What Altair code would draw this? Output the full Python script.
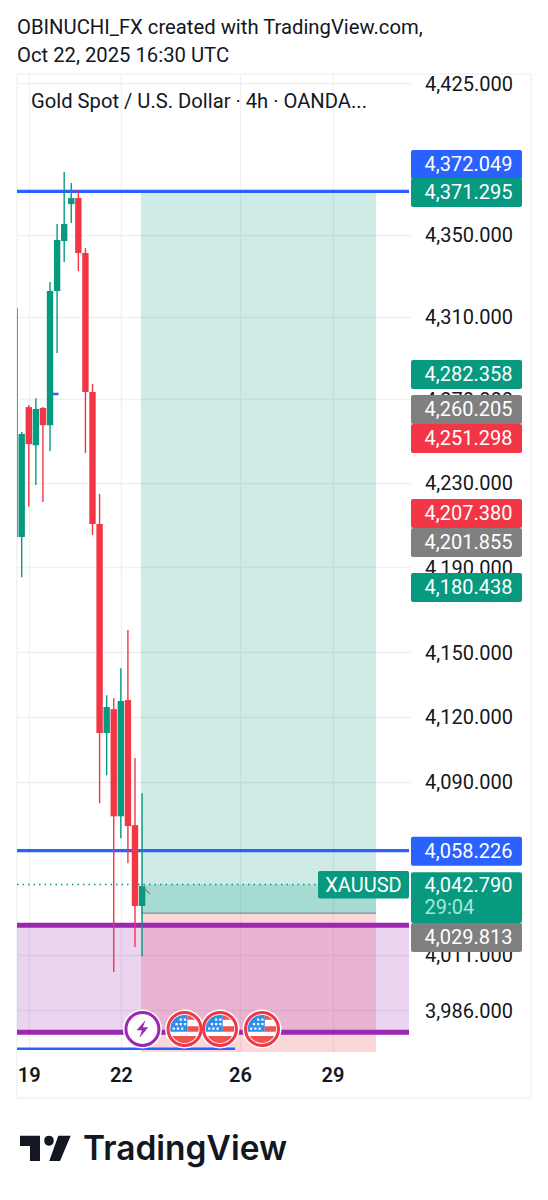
import altair as alt
import pandas as pd

# ---- candles (4h bars) ----
bar_idx = [-1, 0, 1, 2, 3, 4, 5, 6, 7, 8, 9, 10, 11, 12, 13, 14, 15, 16, 17]
opens = [4314.2, 4204.3, 4266.3, 4248.0, 4265.9, 4257.6, 4322.5, 4346.9, 4365.0, 4368.0, 4341.0, 4273.5, 4210.4, 4112.4, 4123.5, 4074.0, 4127.7, 4069.9, 4033.0]
closes = [4204.3, 4253.4, 4248.5, 4265.4, 4257.6, 4322.5, 4347.4, 4355.2, 4368.0, 4341.0, 4273.5, 4210.4, 4112.4, 4124.5, 4074.0, 4127.3, 4069.5, 4033.0, 4042.1]
highs = [4314.2, 4254.3, 4267.3, 4270.6, 4266.3, 4326.9, 4355.2, 4380.8, 4375.4, 4371.9, 4343.4, 4277.4, 4224.7, 4130.0, 4128.6, 4142.6, 4160.4, 4100.8, 4084.6]
lows = [4204.3, 4185.3, 4218.6, 4229.0, 4220.9, 4245.2, 4292.4, 4336.6, 4355.7, 4332.2, 4244.3, 4205.2, 4080.0, 4092.9, 4003.1, 4063.9, 4052.5, 4014.4, 4010.3]

# ---- axes ----
price_ticks = [4425, 4350, 4310, 4270, 4230, 4190, 4150, 4120, 4090, 4011, 3986]
date_ticks = [1, 14, 30.83, 43.9]
date_labels = ["19", "22", "26", "29"]

# ---- drawings ----
blue_levels = [4371.295, 4058.226]
blue_low_level = 3968.6
purple_levels = [4024.3, 3976.0]
last_price = 4042.79
entry_price = 4029.813
target_price = 4371.295
stop_price = 3967.2
event_idx = [23.0, 28.0, 33.94]
event_price = 3977.5
lightning_idx = 17.05

# ---- price tags: text, resting place on the price scale, colour ----
tag_text = ["4,372.049", "4,371.295", "4,282.358", "4,260.205", "4,251.298", "4,207.380", "4,201.855", "4,180.438", "4,058.226", "4,029.813"]
tag_pos = [4384.8, 4371.0, 4282.2, 4265.4, 4251.4, 4215.7, 4201.9, 4180.6, 4058.226, 4018.9]
tag_col = ["#2962FF", "#089981", "#089981", "#808080", "#F23645", "#F23645", "#808080", "#089981", "#2962FF", "#808080"]

GREEN, RED, BLUE, PURPLE, INK = "#089981", "#F23645", "#2962FF", "#9C27B0", "#131722"
FONT = "Roboto"
X_LEFT = -0.664

candles = pd.DataFrame({"i": bar_idx, "o": opens, "c": closes, "h": highs, "l": lows})
candles["col"] = [GREEN if c >= o else RED for o, c in zip(opens, closes)]
tags = pd.DataFrame({"t": tag_text, "p": tag_pos, "col": tag_col})

xs = alt.Scale(domain=[X_LEFT, 54.84], nice=False, zero=False, padding=0)
ys = alt.Scale(type="log", domain=[3967.2, 4429.5], nice=False, zero=False, padding=0)
X = lambda f: alt.X(f, type="quantitative", scale=xs, title=None)
Y = lambda f: alt.Y(f, type="quantitative", scale=ys, title=None)
one = pd.DataFrame({"a": [0]})
col = alt.Color("col:N", scale=None)

label_expr = " : ".join(
    f"datum.value < {v + 1} ? '{t}'" for v, t in zip(date_ticks[:-1], date_labels[:-1])
) + f" : '{date_labels[-1]}'"

# axes and grid
base = alt.Chart(pd.DataFrame({"i": [0.0], "p": [4200.0]})).mark_point(opacity=0).encode(
    x=alt.X("i:Q", scale=xs, title=None, axis=alt.Axis(
        values=date_ticks, labelExpr=label_expr, grid=True, gridColor="#eef0f3", gridWidth=1.3,
        domain=False, ticks=False, labelFont=FONT, labelFontSize=20, labelFontWeight=600,
        labelColor=INK, labelPadding=13, labelBound=False, labelFlush=False, labelOverlap=False)),
    y=alt.Y("p:Q", scale=ys, title=None, axis=alt.Axis(
        orient="right", values=price_ticks, format=",.3f", grid=True, gridColor="#eef0f3", gridWidth=1.3,
        domain=False, ticks=False, labelFont=FONT, labelFontSize=20, labelColor=INK, labelOffset=1,
        labelPadding=14.5, labelAlign="left", labelBaseline="middle", labelOverlap=False, labelBound=False, labelFlush=False)),
)

frame = alt.Chart(one).mark_rect(fill=None, stroke="#f0f2f5", strokeWidth=1.5, clip=False).encode(
    x=alt.value(0), x2=alt.value(514), y=alt.value(0), y2=alt.value(1024))

# position tool
pos_x0, pos_x1 = 16.85, 50.04
zones = pd.DataFrame({
    "x0": [pos_x0, pos_x0, pos_x0],
    "x1": [pos_x1, pos_x1, pos_x1],
    "top": [target_price, last_price, entry_price],
    "bot": [entry_price, entry_price, stop_price],
    "col": [GREEN, GREEN, RED],
})
zone_layer = alt.Chart(zones).mark_rect(opacity=0.2).encode(
    x=X("x0"), x2="x1", y=Y("top"), y2="bot", color=col)
entry_line = alt.Chart(pd.DataFrame({"x0": [pos_x0], "x1": [pos_x1], "p": [entry_price]})).mark_rule(
    color="#7d8f88", strokeWidth=1.2).encode(x=X("x0"), x2="x1", y=Y("p"))

# lavender band and horizontal levels
band = alt.Chart(pd.DataFrame({"top": [purple_levels[0]], "bot": [purple_levels[1]]})).mark_rect(
    color=PURPLE, opacity=0.2).encode(x=alt.value(0), x2=alt.value(392), y=Y("top"), y2="bot")
purple_rules = alt.Chart(pd.DataFrame({"p": purple_levels})).mark_rule(color=PURPLE, strokeWidth=5).encode(
    x=alt.value(0), x2=alt.value(392), y=Y("p"))
blue_rules = alt.Chart(pd.DataFrame({"p": blue_levels})).mark_rule(color=BLUE, strokeWidth=3.2).encode(
    x=alt.value(0), x2=alt.value(392), y=Y("p"))
blue_low = alt.Chart(pd.DataFrame({"x0": [X_LEFT], "x1": [30.13], "p": [blue_low_level]})).mark_rule(color=BLUE, strokeWidth=2.5).encode(
    x=X("x0"), x2="x1", y=Y("p"))
blue_tick = alt.Chart(pd.DataFrame({"x0": [4.35], "x1": [5.2], "p": [4272.6]})).mark_rule(color=BLUE, strokeWidth=2.5).encode(
    x=X("x0"), x2="x1", y=Y("p"))

# candles
wicks = alt.Chart(candles).mark_rule(strokeWidth=1.4, clip=True).encode(
    x=X("i"), y=Y("h"), y2="l", color=col)
bodies = alt.Chart(candles).mark_bar(size=6.4, orient="vertical", clip=True).encode(
    x=X("i"), y=Y("o"), y2="c", color=col)

# last price
last_line = alt.Chart(pd.DataFrame({"x0": [X_LEFT], "x1": [42.16], "p": [last_price]})).mark_rule(
    color=GREEN, strokeWidth=1.4, strokeDash=[1.5, 4]).encode(x=X("x0"), x2="x1", y=Y("p"))
pointer = alt.Chart(pd.DataFrame({"x0": [17.0], "x1": [18.1], "p0": [4042.1], "p1": [4038.5]})).mark_rule(
    color="#6f7a78", strokeWidth=1.2).encode(x=X("x0"), x2="x1", y=Y("p0"), y2="p1")

# event icons
ring = pd.DataFrame({"i": [lightning_idx] + event_idx, "p": [event_price] * 4,
                     "col": [PURPLE, RED, RED, RED]})
halo = alt.Chart(ring).mark_point(filled=True, color="white", size=1520, opacity=1, clip=False).encode(x=X("i"), y=Y("p"))
rings = alt.Chart(ring).mark_point(filled=True, fill="white", size=1090, strokeWidth=3, opacity=1, clip=False).encode(
    x=X("i"), y=Y("p"), stroke=alt.Stroke("col:N", scale=None))
flags = pd.DataFrame({"i": event_idx, "p": [event_price] * 3})
canton = "M-1,0.2 A1,1 0 0 1 0.2,-0.98 L0.2,0.2 Z"
stripes = ("M0.2,-0.2 L1,-0.2 A1,1 0 0 1 0.98,0.2 L0.2,0.2 Z "
           "M0.2,-0.98 A1,1 0 0 1 0.75,-0.66 L0.2,-0.66 Z "
           "M-0.866,0.5 L0.866,0.5 A1,1 0 0 1 -0.866,0.5 Z")
stars = " ".join(f"M{x},{y} h0.16 v0.16 h-0.16 Z"
                 for x, y in [(-0.35, -0.75), (-0.05, -0.75), (-0.65, -0.42), (-0.35, -0.42), (-0.05, -0.42),
                              (-0.85, -0.1), (-0.55, -0.1), (-0.25, -0.1)])
bolt = "M0.35,-1 L-0.65,0.15 L-0.05,0.15 L-0.35,1 L0.65,-0.2 L0.05,-0.2 Z"
mk = lambda d, c, s, df=flags: alt.Chart(df).mark_point(
    shape=d, filled=True, color=c, size=s, opacity=1, strokeWidth=0, clip=False).encode(x=X("i"), y=Y("p"))
flag_layers = [mk(canton, "#2F8EE8", 784), mk(stripes, "#F0524F", 784), mk(stars, "white", 784),
               mk(bolt, PURPLE, 324, pd.DataFrame({"i": [lightning_idx], "p": [event_price]}))]

# price tags
tag_rects = alt.Chart(tags).mark_rect(cornerRadius=2, yOffset=-14, y2Offset=15, clip=False).encode(
    x=alt.value(394), x2=alt.value(505), y=Y("p"), y2="p", color=col)
tag_texts = alt.Chart(tags).mark_text(align="left", baseline="middle", dy=1, font=FONT, fontSize=20, color="white", clip=False).encode(
    x=alt.value(407.5), y=Y("p"), text="t:N")

last_tag = alt.Chart(pd.DataFrame({"top": [4048.4], "bot": [4025.3]})).mark_rect(
    color=GREEN, cornerRadius=2, clip=False).encode(x=alt.value(394), x2=alt.value(505), y=Y("top"), y2="bot")
last_txt = alt.Chart(pd.DataFrame({"t": ["4,042.790"], "p": [last_price]})).mark_text(
    align="left", baseline="middle", dy=1, font=FONT, fontSize=20, color="white", clip=False).encode(
    x=alt.value(407.5), y=Y("p"), text="t:N")
timer_txt = alt.Chart(pd.DataFrame({"t": ["29:04"], "p": [4032.6]})).mark_text(
    align="left", baseline="middle", dy=1, font=FONT, fontSize=20, color="#A8E6D8", clip=False).encode(
    x=alt.value(407.5), y=Y("p"), text="t:N")
sym_rect = alt.Chart(pd.DataFrame({"p": [last_price]})).mark_rect(
    color=GREEN, cornerRadius=2, yOffset=-13.5, y2Offset=14, clip=False).encode(
    x=alt.value(301), x2=alt.value(392), y=Y("p"), y2="p")
sym_txt = alt.Chart(pd.DataFrame({"t": ["XAUUSD"], "p": [last_price]})).mark_text(
    align="center", baseline="middle", dy=1, font=FONT, fontSize=20, color="white", clip=False).encode(
    x=alt.value(346.5), y=Y("p"), text="t:N")

# header and legend text
def note(txt, x, y, size, weight=400, font=FONT, color=INK):
    return alt.Chart(pd.DataFrame({"t": [txt]})).mark_text(
        align="left", baseline="middle", font=font, fontSize=size, fontWeight=weight, color=color, clip=False).encode(
        x=alt.value(x), y=alt.value(y), text="t:N")

header = [
    note("OBINUCHI_FX created with TradingView.com,", 0, -46.5, 20.25),
    note("Oct 22, 2025 16:30 UTC", 0, -18.5, 20.25),
    note("Gold Spot / U.S. Dollar · 4h · OANDA...", 14, 27.5, 20.2),
]

# TradingView logo
cx, cy, half = 45.5, 1148.5, 26.0
def px(x, y):
    return f"{(x - cx) / half:.3f},{(y - cy) / half:.3f}"
logo_d = ("M" + " L".join(px(*p) for p in [(20, 1135.7), (40, 1135.7), (40, 1161), (30, 1161), (30, 1146), (20, 1146)]) + " Z "
          "M" + " L".join(px(*p) for p in [(58.3, 1135.7), (70.7, 1135.7), (60, 1161), (49.3, 1161)]) + " Z "
          f"M{px(44.3, 1140.7)} A{4.7 / half:.3f},{4.7 / half:.3f} 0 1 1 {px(53.7, 1140.7)} "
          f"A{4.7 / half:.3f},{4.7 / half:.3f} 0 1 1 {px(44.3, 1140.7)} Z")
logo = alt.Chart(one).mark_point(shape=logo_d, filled=True, color="#131722", size=(2 * half) ** 2,
                                 opacity=1, strokeWidth=0, clip=False).encode(
    x=alt.value(cx - 17), y=alt.value(cy - 74))
word = note("TradingView", 66, 1075.5, 33.5, 600, "Inter")

chart = alt.layer(
    base, frame, zone_layer, entry_line, band, purple_rules, blue_rules, blue_low, blue_tick,
    wicks, bodies, last_line, pointer, halo, rings, *flag_layers,
    tag_rects, tag_texts, last_tag, last_txt, timer_txt, sym_rect, sym_txt,
    *header, logo, word,
).properties(
    width=393, height=978,
    padding={"left": 9, "top": 66, "right": 130, "bottom": 140},
    autosize="none", background="white",
).configure_view(stroke=None)

chart.save("out.html", embed_options={"renderer": "svg", "actions": False})
